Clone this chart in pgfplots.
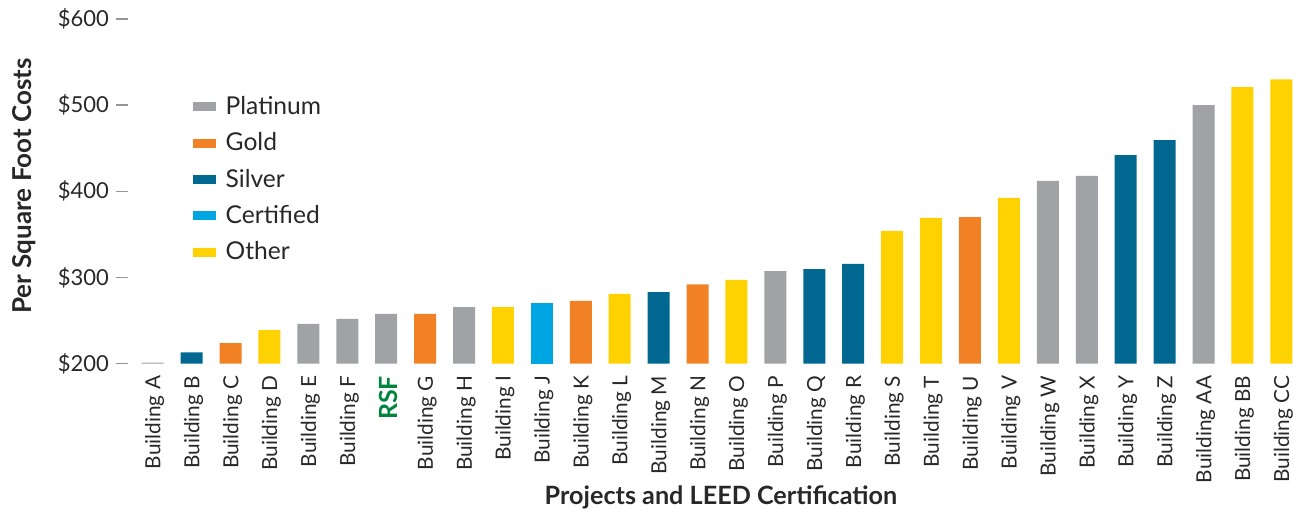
\documentclass[border=0pt]{standalone}
\usepackage{pgfplots}
\pgfplotsset{compat=1.18}
\usepackage{fontspec}
\setmainfont{Lato}
\definecolor{plat}{RGB}{160,162,166}
\definecolor{gold}{RGB}{242,129,38}
\definecolor{silver}{RGB}{0,103,145}
\definecolor{cert}{RGB}{0,166,225}
\definecolor{other}{RGB}{254,209,0}
\definecolor{rsfgreen}{RGB}{0,133,63}
\definecolor{textc}{RGB}{40,40,40}
\definecolor{tickgray}{RGB}{150,150,150}
\pgfplotsset{legsq/.style={legend image code/.code={\fill[##1] (0pt,-2.25pt) rectangle (11.5pt,2.25pt);}}}
\begin{document}
\begin{tikzpicture}
\useasboundingbox (-64pt,-74.75pt) rectangle (582.5pt,181.75pt);
\begin{axis}[
  width=582.5pt, height=172.25pt, scale only axis,
  xmin=-0.635, xmax=29.3, ymin=200, ymax=600,
  ybar, bar width=11pt, bar shift=0pt,
  axis line style={draw=none},
  tick pos=left,
  tick align=outside, major tick length=6pt,
  x tick style={draw=none},
  y tick style={draw=tickgray, line width=0.7pt},
  xtick={0,...,29},
  xticklabels={Building A,Building B,Building C,Building D,Building E,Building F,{\textcolor{rsfgreen}{\fontsize{12.5}{12.5}\selectfont\bfseries RSF}},Building G,Building H,Building I,Building J,Building K,Building L,Building M,Building N,Building O,Building P,Building Q,Building R,Building S,Building T,Building U,Building V,Building W,Building X,Building Y,Building Z,Building AA,Building BB,Building CC},
  ytick={200,300,400,500,600},
  yticklabels={\$200,\$300,\$400,\$500,\$600},
  yticklabel style={font=\fontsize{11}{11}\selectfont, text=textc},
  xticklabel style={font=\fontsize{10.4}{10.4}\selectfont, text=textc, rotate=90, anchor=east, inner sep=0pt, yshift=-1pt},
  xlabel={Projects and LEED Certification},
  ylabel={Per Square Foot Costs},
  xlabel style={font=\fontsize{12.6}{12.6}\selectfont\bfseries, text=textc, at={(rel axis cs:0.509,0)}, anchor=center, yshift=-67pt},
  ylabel style={font=\fontsize{13}{13}\selectfont\bfseries, text=textc, at={(rel axis cs:0,0.515)}, anchor=center, yshift=52pt},
  legend style={at={(rel axis cs:0.05,0.80)}, anchor=north west, draw=none, fill=none,
    font=\fontsize{12.3}{12.3}\selectfont, text=textc, row sep=3.6pt,
    /tikz/every odd column/.append style={column sep=3pt}},
  legend cell align=left,
]
\addplot[fill=plat, draw=none, legsq]
  coordinates {(0,201) (4,245.9) (5,251.7) (6,257.5) (8,265.6) (16,307.4) (23,412) (24,417.8) (27,500)};
\addlegendentry{Platinum}
\addplot[fill=gold, draw=none, legsq]
  coordinates {(2,223.8) (7,257.5) (11,272.6) (14,292) (21,370.1)};
\addlegendentry{Gold}
\addplot[fill=silver, draw=none, legsq]
  coordinates {(1,213) (13,283) (17,309.7) (18,315.6) (25,442) (26,459.5)};
\addlegendentry{Silver}
\addplot[fill=cert, draw=none, legsq]
  coordinates {(10,270)};
\addlegendentry{Certified}
\addplot[fill=other, draw=none, legsq]
  coordinates {(3,238.7) (9,265.6) (12,280.7) (15,297) (19,353.9) (20,369) (22,392.2) (28,521) (29,530)};
\addlegendentry{Other}
\end{axis}
\end{tikzpicture}
\end{document}
